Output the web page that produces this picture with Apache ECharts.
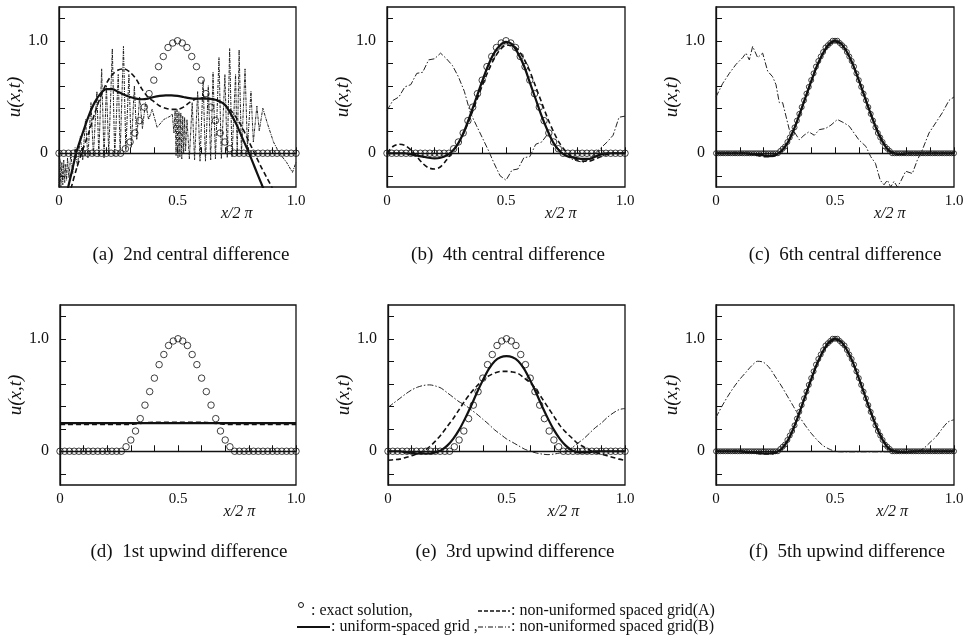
<!DOCTYPE html>
<html><head><meta charset="utf-8">
<script src="https://cdn.jsdelivr.net/npm/echarts@6/dist/echarts.min.js"></script>
<style>html,body{margin:0;padding:0;background:#fff}#c{width:969px;height:642px}</style>
</head><body><div id="c"></div>
<script>
// ---------------- data ----------------
const X41 = [0,0.025,0.05,0.075,0.1,0.125,0.15,0.175,0.2,0.225,0.25,0.275,0.3,0.325,0.35,0.375,0.4,0.425,0.45,0.475,0.5,0.525,0.55,0.575,0.6,0.625,0.65,0.675,0.7,0.725,0.75,0.775,0.8,0.825,0.85,0.875,0.9,0.925,0.95,0.975,1];
const X51 = [0,0.02,0.04,0.06,0.08,0.1,0.12,0.14,0.16,0.18,0.2,0.22,0.24,0.26,0.28,0.3,0.32,0.34,0.36,0.38,0.4,0.42,0.44,0.46,0.48,0.5,0.52,0.54,0.56,0.58,0.6,0.62,0.64,0.66,0.68,0.7,0.72,0.74,0.76,0.78,0.8,0.82,0.84,0.86,0.88,0.9,0.92,0.94,0.96,0.98,1];
const X101 = [0,0.01,0.02,0.03,0.04,0.05,0.06,0.07,0.08,0.09,0.1,0.11,0.12,0.13,0.14,0.15,0.16,0.17,0.18,0.19,0.2,0.21,0.22,0.23,0.24,0.25,0.26,0.27,0.28,0.29,0.3,0.31,0.32,0.33,0.34,0.35,0.36,0.37,0.38,0.39,0.4,0.41,0.42,0.43,0.44,0.45,0.46,0.47,0.48,0.49,0.5,0.51,0.52,0.53,0.54,0.55,0.56,0.57,0.58,0.59,0.6,0.61,0.62,0.63,0.64,0.65,0.66,0.67,0.68,0.69,0.7,0.71,0.72,0.73,0.74,0.75,0.76,0.77,0.78,0.79,0.8,0.81,0.82,0.83,0.84,0.85,0.86,0.87,0.88,0.89,0.9,0.91,0.92,0.93,0.94,0.95,0.96,0.97,0.98,0.99,1];

const EXACT51 = [0,0,0,0,0,0,0,0,0,0,0,0,0,0.00,0.04,0.10,0.18,0.29,0.41,0.53,0.65,0.77,0.86,0.94,0.98,1.00,0.98,0.94,0.86,0.77,0.65,0.53,0.41,0.29,0.18,0.10,0.04,0.00,0,0,0,0,0,0,0,0,0,0,0,0,0];
const EXACT101 = [0,0,0,0,0,0,0,0,0,0,0,0,0,0,0,0,0,0,0,0,0,0,0,0,0,0,
  0.00,0.02,0.04,0.06,0.10,0.14,0.18,0.23,0.29,0.35,0.41,0.47,0.53,0.59,0.65,0.71,0.77,0.82,0.86,0.90,0.94,0.96,0.98,1.00,1.00,1.00,0.98,0.96,0.94,0.90,0.86,0.82,0.77,0.71,0.65,0.59,0.53,0.47,0.41,0.35,0.29,0.23,0.18,0.14,0.10,0.06,0.04,0.02,0.00,
  0,0,0,0,0,0,0,0,0,0,0,0,0,0,0,0,0,0,0,0,0,0,0,0,0,0];

// (a) 2nd central difference
const A_SOLID = [-0.6,-0.42,-0.2,0.02,0.18,0.33,0.45,0.53,0.57,0.57,0.545,0.52,0.50,0.485,0.48,0.485,0.50,0.51,0.515,0.515,0.51,0.50,0.49,0.485,0.485,0.485,0.48,0.465,0.43,0.35,0.25,0.13,0.01,-0.12,-0.25,-0.38,-0.52,-0.66,-0.8,-0.95,-1.1];
const A_DASHED = [-0.8,-0.55,-0.32,-0.13,0.03,0.18,0.35,0.50,0.62,0.70,0.74,0.75,0.72,0.66,0.57,0.50,0.46,0.42,0.40,0.39,0.39,0.41,0.45,0.48,0.49,0.49,0.48,0.46,0.43,0.38,0.31,0.22,0.11,0.0,-0.11,-0.21,-0.31,-0.42,-0.55,-0.7,-0.85];
const A_B_X = [0.000,0.004,0.008,0.012,0.016,0.020,0.024,0.028,0.032,0.036,0.042,0.050,0.058,0.068,0.078,0.090,0.100,0.112,0.122,0.135,0.145,0.160,0.168,0.180,0.190,0.200,0.210,0.225,0.235,0.250,0.258,0.272,0.282,0.295,0.305,0.318,0.328,0.340,0.352,0.365,0.378,0.393,0.414,0.442,0.470,0.478,0.485,0.490,0.494,0.498,0.502,0.506,0.510,0.514,0.518,0.522,0.526,0.530,0.534,0.540,0.550,0.562,0.572,0.585,0.595,0.608,0.618,0.630,0.640,0.650,0.660,0.675,0.685,0.700,0.710,0.720,0.730,0.745,0.752,0.760,0.770,0.785,0.795,0.810,0.820,0.835,0.845,0.860,0.880,0.905,0.930,0.960,0.985,1.000];
const A_B = [-0.30,-0.05,-0.30,-0.08,-0.28,-0.06,-0.26,-0.10,-0.24,-0.04,-0.22,0.00,-0.18,0.05,-0.12,0.15,-0.06,0.30,-0.04,0.45,-0.02,0.55,-0.03,0.75,-0.04,0.60,0.00,0.93,-0.02,0.70,0.00,0.95,0.02,0.70,0.05,0.60,0.12,0.50,0.22,0.45,0.30,0.39,0.23,0.30,0.33,0.35,0.18,0.38,-0.02,0.39,-0.04,0.37,-0.03,0.36,-0.05,0.33,0.00,0.32,0.02,0.30,-0.05,0.45,-0.06,0.55,-0.07,0.65,-0.07,0.60,-0.06,0.72,-0.05,0.85,-0.05,0.70,-0.04,0.93,-0.03,0.70,-0.02,0.92,0.00,0.75,0.05,0.55,0.10,0.42,0.20,0.40,0.26,0.10,0.00,-0.08,-0.17,-0.08];

// (b) 4th central difference
const B_SOLID = [0,0,0,0,-0.01,-0.02,-0.03,-0.04,-0.045,-0.04,-0.02,0.02,0.09,0.2,0.34,0.49,0.64,0.78,0.89,0.96,0.99,0.97,0.89,0.78,0.63,0.48,0.33,0.2,0.09,0.02,-0.02,-0.035,-0.045,-0.05,-0.05,-0.03,-0.01,0,0,0,0];
const B_DASHED = [0.0,0.06,0.08,0.07,0.03,-0.03,-0.09,-0.13,-0.14,-0.12,-0.06,0.01,0.09,0.19,0.32,0.46,0.6,0.73,0.84,0.92,0.96,0.96,0.92,0.84,0.73,0.59,0.45,0.31,0.19,0.09,0.02,-0.03,-0.06,-0.07,-0.07,-0.05,-0.03,-0.01,0,0,0];
const B_B = [0.38,0.47,0.50,0.59,0.61,0.71,0.72,0.83,0.84,0.89,0.84,0.78,0.68,0.55,0.36,0.25,0.14,0.03,-0.09,-0.20,-0.24,-0.15,-0.14,-0.04,-0.03,0.08,0.10,0.17,0.09,0.03,-0.02,-0.05,-0.07,-0.08,-0.05,0.0,0.05,0.10,0.16,0.32,0.33];

// (c) 6th central difference
const C_SOLID = [0,0,0,0,0,0,-0.005,-0.01,-0.02,-0.025,-0.015,0.02,0.09,0.2,0.34,0.49,0.64,0.78,0.89,0.97,1.0,0.975,0.9,0.79,0.65,0.5,0.35,0.21,0.1,0.025,0,-0.005,0,0,0,0,0,0,0,0,0];
const C_DASHED = [0,0,0,0,0,0,-0.01,-0.02,-0.03,-0.03,-0.02,0.02,0.09,0.2,0.34,0.49,0.64,0.78,0.89,0.965,0.99,0.97,0.9,0.79,0.65,0.5,0.35,0.22,0.11,0.03,0,-0.01,-0.005,0,0,0,0,0,0,0,0];
const C_B_X = [0,0.028,0.056,0.084,0.112,0.126,0.14,0.154,0.175,0.196,0.217,0.238,0.252,0.266,0.28,0.294,0.308,0.329,0.35,0.37,0.39,0.413,0.434,0.46,0.483,0.51,0.538,0.56,0.58,0.60,0.63,0.65,0.67,0.69,0.706,0.72,0.734,0.748,0.762,0.776,0.797,0.825,0.846,0.867,0.895,0.923,0.951,0.979,1.0];
const C_B = [0.50,0.62,0.71,0.79,0.85,0.89,0.83,0.95,0.85,0.89,0.73,0.68,0.61,0.45,0.45,0.33,0.21,0.19,0.12,0.16,0.19,0.16,0.21,0.22,0.25,0.30,0.27,0.24,0.18,0.12,0.06,-0.03,-0.09,-0.24,-0.28,-0.24,-0.30,-0.25,-0.30,-0.25,-0.16,-0.18,-0.06,0.03,0.18,0.27,0.36,0.47,0.50];

// (d) 1st upwind difference
const D_SOLID_X = [0,1];
const D_SOLID = [0.25,0.25];
const D_DASHED = [0.238,0.238,0.238,0.238,0.238,0.238,0.238,0.238,0.238,0.238,0.238,0.238,0.24,0.245,0.25,0.255,0.258,0.258,0.258,0.258,0.258,0.258,0.258,0.258,0.258,0.255,0.25,0.245,0.24,0.238,0.238,0.238,0.238,0.238,0.238,0.238,0.238,0.238,0.238,0.238,0.238];

// (e) 3rd upwind difference
const E_SOLID = [0,0,0,-0.01,-0.015,-0.02,-0.02,-0.02,-0.01,0.01,0.05,0.11,0.19,0.29,0.40,0.52,0.63,0.73,0.80,0.835,0.845,0.835,0.80,0.73,0.63,0.52,0.40,0.29,0.19,0.11,0.05,0.01,-0.01,-0.01,-0.01,0,0,0,0,0,0];
const E_DASHED = [-0.08,-0.075,-0.07,-0.055,-0.04,-0.02,0.0,0.04,0.09,0.15,0.22,0.29,0.37,0.45,0.52,0.58,0.63,0.67,0.695,0.71,0.71,0.705,0.69,0.65,0.61,0.55,0.47,0.39,0.31,0.23,0.17,0.12,0.07,0.04,0.01,-0.01,-0.025,-0.04,-0.055,-0.07,-0.08];
const E_B = [0.39,0.43,0.47,0.51,0.545,0.57,0.585,0.59,0.58,0.56,0.52,0.48,0.44,0.41,0.37,0.33,0.285,0.24,0.19,0.15,0.11,0.08,0.05,0.02,0.0,-0.015,-0.025,-0.03,-0.025,-0.015,0.0,0.03,0.07,0.11,0.16,0.21,0.25,0.30,0.34,0.37,0.38];

// (f) 5th upwind difference
const F_SOLID = [0,0,0,0,0,-0.005,-0.01,-0.015,-0.02,-0.02,-0.01,0.02,0.09,0.2,0.34,0.49,0.64,0.78,0.89,0.97,1.0,0.975,0.9,0.79,0.65,0.5,0.35,0.21,0.1,0.025,0,-0.005,-0.005,0,0,0,0,0,0,0,0];
const F_DASHED = [0,0,0,0,0,-0.005,-0.01,-0.02,-0.025,-0.025,-0.015,0.02,0.09,0.2,0.34,0.49,0.64,0.78,0.89,0.96,0.99,0.97,0.9,0.79,0.65,0.5,0.35,0.22,0.11,0.03,0.005,-0.005,-0.01,-0.005,0,0,0,0,0,0,0];
const F_B = [0.30,0.40,0.49,0.57,0.64,0.70,0.76,0.80,0.79,0.74,0.66,0.58,0.49,0.40,0.31,0.23,0.16,0.10,0.05,0.02,0.0,-0.005,-0.005,-0.005,-0.005,-0.005,-0.005,-0.005,-0.005,-0.005,-0.005,-0.005,-0.005,-0.005,0.0,0.03,0.08,0.13,0.20,0.26,0.28];

// ticks and labels
const X_TICKS = [0,0.1,0.2,0.3,0.4,0.5,0.6,0.7,0.8,0.9,1];
const X_LABELS = [0,0.5,1];
const Y_TICKS = [-0.2,0,0.2,0.4,0.6,0.8,1.0,1.2];
const Y_LABELS = [0,1];
const TITLES = ['(a)  2nd central difference','(b)  4th central difference','(c)  6th central difference','(d)  1st upwind difference','(e)  3rd upwind difference','(f)  5th upwind difference'];
const LEGEND_TEXT = [': exact solution,', ': uniform-spaced grid ,', ': non-uniformed spaced grid(A)', ': non-uniformed spaced grid(B)'];

// ---------------- layout ----------------
const LAYOUT = [
  {left:59, top:7, width:237, height:180},
  {left:387, top:7, width:238, height:180},
  {left:716, top:7, width:238, height:180},
  {left:60, top:305, width:236, height:180},
  {left:388, top:305, width:237, height:180},
  {left:716, top:305, width:238, height:180}
];
const NAME_GAP = [28,23,22,28,23,22];
const TITLE_POS = [[191,255],[508,255],[845,255],[189,552],[515,552],[847,552]];
const XNAME_FRAC = [0.75,0.73,0.73,0.76,0.74,0.74];

const zip = (xs, ys) => xs.map((x, i) => [x, ys[i]]);
const PANELS = [
  {ex:[X51,EXACT51], sym:6.5, solid:[X41,A_SOLID], dashed:[X41,A_DASHED], b:[A_B_X,A_B], bSmooth:false, bDash:[3,1,1,1]},
  {ex:[X51,EXACT51], sym:6.5, solid:[X41,B_SOLID], dashed:[X41,B_DASHED], b:[X41,B_B], bSmooth:false, bDash:[6,2,1.5,2]},
  {ex:[X101,EXACT101], sym:5, solid:[X41,C_SOLID], dashed:[X41,C_DASHED], b:[C_B_X,C_B], bSmooth:false, bDash:[6,2,1.5,2]},
  {ex:[X51,EXACT51], sym:6.5, solid:[D_SOLID_X,D_SOLID], dashed:[X41,D_DASHED], b:null},
  {ex:[X51,EXACT51], sym:6.5, solid:[X41,E_SOLID], dashed:[X41,E_DASHED], b:[X41,E_B], bSmooth:0.3, bDash:[6,2,1.5,2]},
  {ex:[X101,EXACT101], sym:5, solid:[X41,F_SOLID], dashed:[X41,F_DASHED], b:[X41,F_B], bSmooth:0.3, bDash:[6,2,1.5,2]}
];

const FONT = 'Liberation Serif';
const INK = '#111';

const grid = [], xAxis = [], yAxis = [], series = [], graphic = [];
PANELS.forEach((p, i) => {
  const L = LAYOUT[i];
  grid.push({left:L.left, top:L.top, width:L.width, height:L.height, show:true, borderColor:INK, borderWidth:1.3, backgroundColor:'transparent'});
  xAxis.push({type:'value', gridIndex:i, min:0, max:1,
    axisLine:{show:true, lineStyle:{color:INK, width:1.3}},
    axisTick:{show:true, inside:true, length:6, customValues:X_TICKS, lineStyle:{color:INK, width:1}},
    axisLabel:{show:true, customValues:X_LABELS, margin:7, color:INK, fontFamily:FONT, fontSize:15,
      formatter: v => v === 0 ? '0' : v.toFixed(1)},
    splitLine:{show:false}});
  yAxis.push({type:'value', gridIndex:i, min:-0.3, max:1.3,
    name:'u(x,t)', nameLocation:'middle', nameGap:NAME_GAP[i], nameRotate:90,
    nameTextStyle:{fontFamily:FONT, fontStyle:'italic', fontSize:19, color:INK},
    axisLine:{show:true, lineStyle:{color:INK, width:1.3}},
    axisTick:{show:true, inside:true, length:6, customValues:Y_TICKS, lineStyle:{color:INK, width:1}},
    axisLabel:{show:true, customValues:Y_LABELS, margin:11, color:INK, fontFamily:FONT, fontSize:16,
      formatter: v => v === 0 ? '0' : v.toFixed(1)},
    splitLine:{show:false}});

  const common = {type:'line', xAxisIndex:i, yAxisIndex:i, showSymbol:false, symbol:'none', silent:true, clip:true, animation:false};
  if (p.b) series.push(Object.assign({}, common, {data:zip(p.b[0], p.b[1]), smooth:p.bSmooth,
    lineStyle:{color:'#222', width:1, type:p.bDash}}));
  series.push(Object.assign({}, common, {data:zip(p.dashed[0], p.dashed[1]), smooth:0.3,
    lineStyle:{color:INK, width:1.6, type:[5,3]}}));
  series.push(Object.assign({}, common, {data:zip(p.solid[0], p.solid[1]), smooth:0.3,
    lineStyle:{color:INK, width:2.2, type:'solid'}}));
  series.push({type:'scatter', xAxisIndex:i, yAxisIndex:i, data:zip(p.ex[0], p.ex[1]), symbol:'circle', symbolSize:p.sym,
    silent:true, animation:false, z:5,
    itemStyle:{color:'rgba(255,255,255,0)', borderColor:INK, borderWidth:1}});

  graphic.push({type:'text', x:TITLE_POS[i][0], y:TITLE_POS[i][1], silent:true,
    style:{text:TITLES[i], fontFamily:FONT, fontSize:19, fill:INK, align:'center', verticalAlign:'middle'}});
  graphic.push({type:'text', x:L.left + XNAME_FRAC[i]*L.width, y:L.top + L.height + 27, silent:true,
    style:{text:'x/2 π', fontFamily:FONT, fontStyle:'italic', fontSize:16, fill:INK, align:'center', verticalAlign:'middle'}});
});

// legend
graphic.push(
  {type:'circle', shape:{cx:301, cy:605, r:2.5}, style:{fill:'none', stroke:INK, lineWidth:1}},
  {type:'text', x:311, y:611, style:{text:LEGEND_TEXT[0], fontFamily:FONT, fontSize:16, fill:INK, align:'left', verticalAlign:'middle'}},
  {type:'line', shape:{x1:297, y1:627, x2:330, y2:627}, style:{stroke:INK, lineWidth:2.2}},
  {type:'text', x:331, y:627, style:{text:LEGEND_TEXT[1], fontFamily:FONT, fontSize:16, fill:INK, align:'left', verticalAlign:'middle'}},
  {type:'line', shape:{x1:478, y1:611, x2:510, y2:611}, style:{stroke:INK, lineWidth:1.5, lineDash:[4,2]}},
  {type:'text', x:511, y:611, style:{text:LEGEND_TEXT[2], fontFamily:FONT, fontSize:16, fill:INK, align:'left', verticalAlign:'middle'}},
  {type:'line', shape:{x1:478, y1:627, x2:510, y2:627}, style:{stroke:INK, lineWidth:1, lineDash:[5,2,1,2]}},
  {type:'text', x:511, y:627, style:{text:LEGEND_TEXT[3], fontFamily:FONT, fontSize:16, fill:INK, align:'left', verticalAlign:'middle'}}
);

const chart = echarts.init(document.getElementById('c'), null, {renderer:'canvas'});
chart.setOption({backgroundColor:'#fff', animation:false, grid, xAxis, yAxis, series, graphic});
</script>
</body></html>
